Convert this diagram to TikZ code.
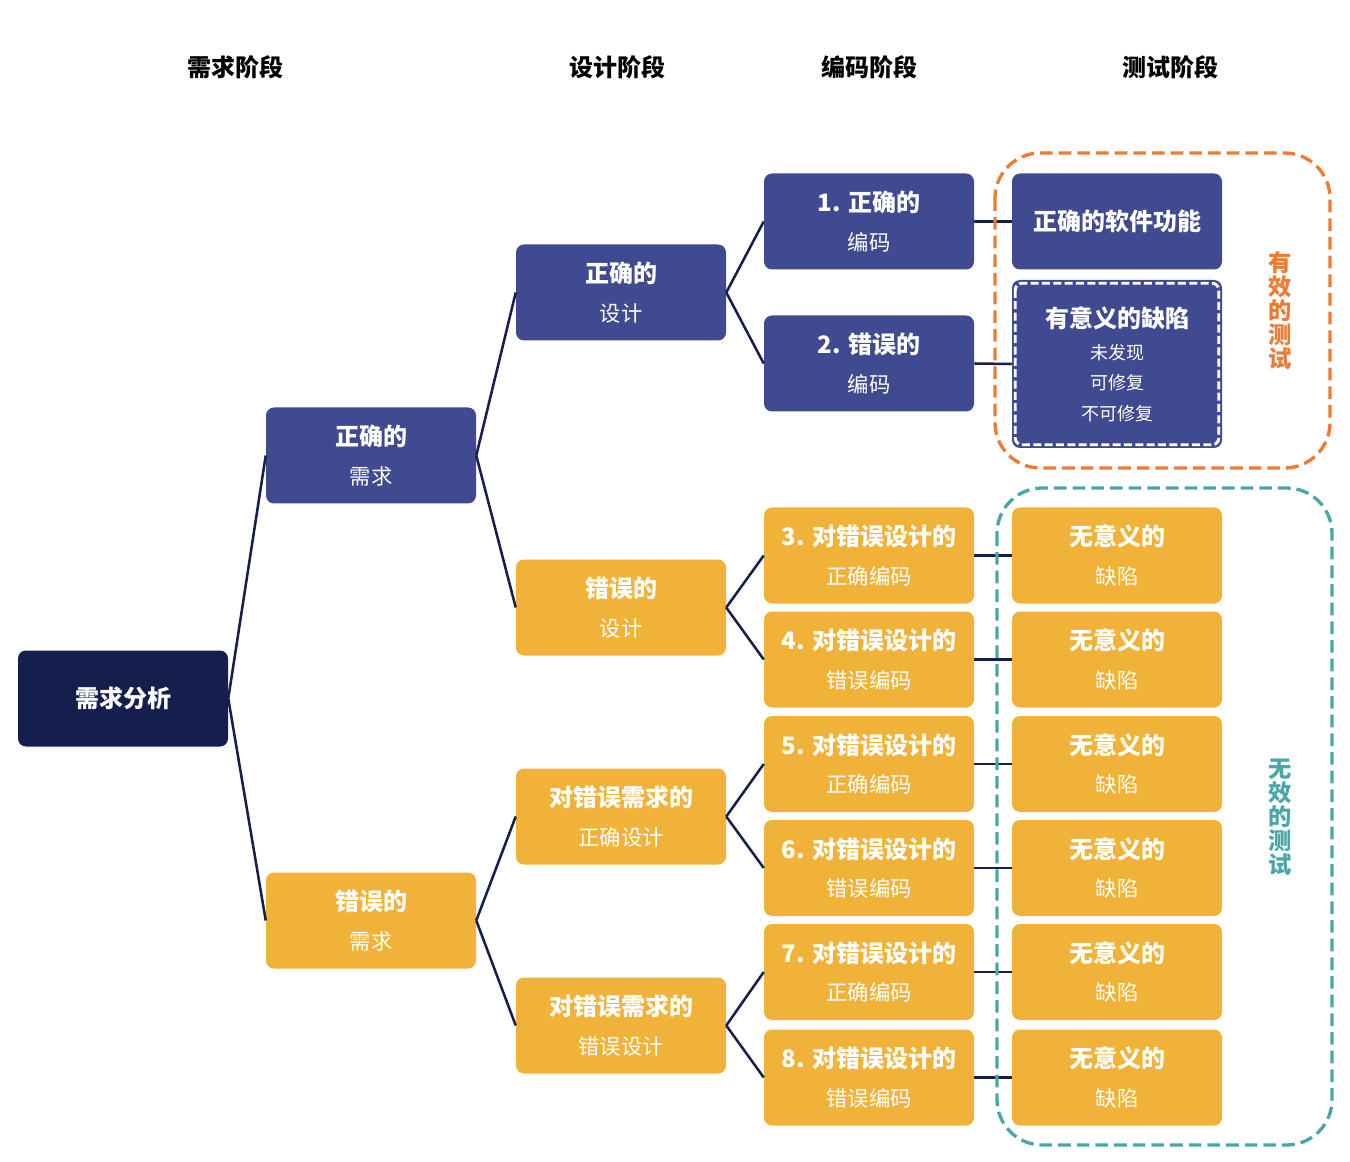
\documentclass[tikz,border=0pt]{standalone}
\usepackage{fontspec}
\setmainfont{Noto Sans CJK SC}
\definecolor{navy}{HTML}{151E4D}
\definecolor{bluebox}{HTML}{404A90}
\definecolor{ybox}{HTML}{F0B238}
\definecolor{orng}{HTML}{EE7A33}
\definecolor{teal}{HTML}{4AA7A8}
\newcommand{\twoline}[2]{{\fontsize{18}{29}\selectfont\bfseries #1}\\#2}
\begin{document}
\begin{tikzpicture}[x=0.75pt,y=-0.75pt,
  box/.style={rounded corners=6pt,minimum width=157.5pt,minimum height=72pt,inner sep=0pt,
    text=white,align=center,font=\fontsize{16}{29}\selectfont},
  bb/.style={box,fill=bluebox},
  yb/.style={box,fill=ybox},
  conn/.style={draw=navy,line width=1.9pt},
  hdr/.style={font=\fontsize{18}{20}\selectfont\bfseries,text=black},
  vlab/.style={font=\fontsize{17.5}{18}\selectfont\bfseries,align=center},
  group/.style={dashed,dash pattern=on 9.5pt off 4.5pt,line width=2.5pt,rounded corners=34pt}
]
\useasboundingbox (0,0) rectangle (1350,1162);
% headers
\node[hdr] (h1) at (235,67) {需求阶段};
\node[hdr] (h2) at (617,67) {设计阶段};
\node[hdr] (h3) at (869,67) {编码阶段};
\node[hdr] (h4) at (1170,67) {测试阶段};
\node[vlab,text=orng] (v1) at (1280,311) {有\\效\\的\\测\\试};
\node[vlab,text=teal] (v2) at (1280,817) {无\\效\\的\\测\\试};
% nodes
\node[box,fill=navy,font=\fontsize{18}{29}\selectfont\bfseries] (root) at (123,698.5) {需求分析};
\node[bb] (r1) at (371,455.5) {\twoline{正确的}{需求}};
\node[yb] (r2) at (371,920.5) {\twoline{错误的}{需求}};
\node[bb] (d1) at (621,292.5) {\twoline{正确的}{设计}};
\node[yb] (d2) at (621,607.5) {\twoline{错误的}{设计}};
\node[yb] (d3) at (621,816.5) {\twoline{对错误需求的}{正确设计}};
\node[yb] (d4) at (621,1025.5) {\twoline{对错误需求的}{错误设计}};
\node[bb] (c1) at (869,221.5) {\twoline{1. 正确的}{编码}};
\node[bb] (c2) at (869,363.5) {\twoline{2. 错误的}{编码}};
\node[yb] (c3) at (869,555.5) {\twoline{3. 对错误设计的}{正确编码}};
\node[yb] (c4) at (869,659.5) {\twoline{4. 对错误设计的}{错误编码}};
\node[yb] (c5) at (869,764) {\twoline{5. 对错误设计的}{正确编码}};
\node[yb] (c6) at (869,868) {\twoline{6. 对错误设计的}{错误编码}};
\node[yb] (c7) at (869,972) {\twoline{7. 对错误设计的}{正确编码}};
\node[yb] (c8) at (869,1077.5) {\twoline{8. 对错误设计的}{错误编码}};
\node[bb,font=\fontsize{18}{29}\selectfont\bfseries] (t1) at (1117,221.5) {正确的软件功能};
\node[bb,minimum height=126pt,font=\fontsize{13.5}{23}\selectfont] (t2) at (1117,364)
  {{\fontsize{18}{27}\selectfont\bfseries 有意义的缺陷}\\[1pt]未发现\\可修复\\不可修复};
\draw[white,line width=2.2pt,dash pattern=on 6pt off 2.5pt,rounded corners=5pt]
  ([shift={(3.5,3.5)}]t2.north west) rectangle ([shift={(-3.5,-3.5)}]t2.south east);
\node[yb] (t3) at (1117,555.5) {\twoline{无意义的}{缺陷}};
\node[yb] (t4) at (1117,659.5) {\twoline{无意义的}{缺陷}};
\node[yb] (t5) at (1117,764) {\twoline{无意义的}{缺陷}};
\node[yb] (t6) at (1117,868) {\twoline{无意义的}{缺陷}};
\node[yb] (t7) at (1117,972) {\twoline{无意义的}{缺陷}};
\node[yb] (t8) at (1117,1077.5) {\twoline{无意义的}{缺陷}};
% connectors
\foreach \a/\b in {root/r1,root/r2,r1/d1,r1/d2,r2/d3,r2/d4,d1/c1,d1/c2,d2/c3,d2/c4,d3/c5,d3/c6,d4/c7,d4/c8}
  \draw[conn] (\a.east) -- (\b.west);
\foreach \i in {1,...,8}
  \draw[conn] (c\i.east) -- (t\i.west);
% group frames
\draw[group,orng] (995,153) rectangle (1330,468);
\draw[group,teal] (997,488) rectangle (1332,1145);
\end{tikzpicture}
\end{document}
